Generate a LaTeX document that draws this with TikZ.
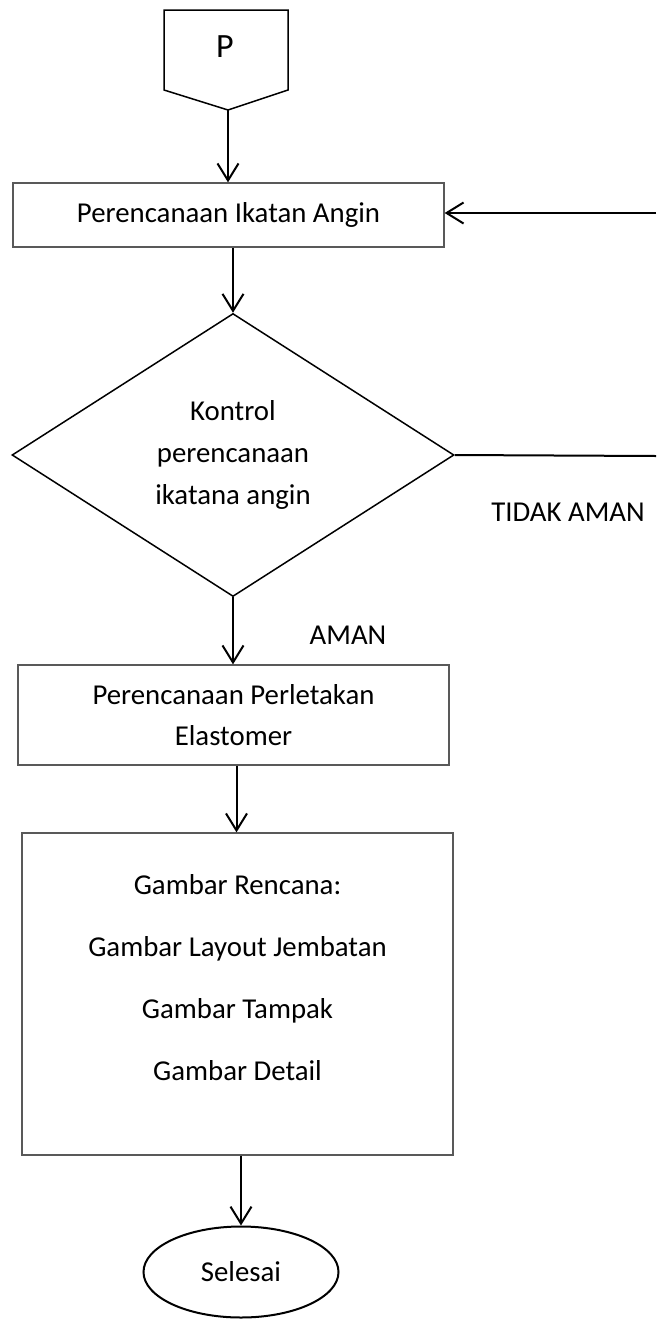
\documentclass[tikz,border=0pt]{standalone}
\usepackage{fontspec}
\setmainfont{Carlito}
\usetikzlibrary{arrows.meta,shapes.geometric}
\tikzset{
  txt/.style={font=\fontsize{28.8}{41.7}\selectfont, align=center, inner sep=0pt},
  procbox/.style={draw=black!65, line width=1.3pt, rectangle, inner sep=0pt, txt},
  outl/.style={draw=black, line width=1.5pt},
  conn/.style={draw=black, line width=2pt},
  arr/.style={conn, -{Straight Barb[length=17pt,width=21pt]}},
}
\begin{document}
\begin{tikzpicture}[x=1pt,y=-1pt]
\useasboundingbox (0,0) rectangle (656,1320);
% off-page connector P
\draw[outl] (164,10) -- (288,10) -- (288,90) -- (228,110) -- (164,90) -- cycle;
\node[txt, font=\fontsize{34}{40}\selectfont] (p) at (225,47) {P};
\coordinate (pbot) at (228,110);
% boxes
\node[procbox, minimum width=431pt, minimum height=64pt] (b1) at (228.5,215) {Perencanaan Ikatan Angin};
\node[diamond, outl, txt, minimum width=442pt, minimum height=283pt] (dia) at (233,455) {Kontrol\\perencanaan\\ikatana angin};
\node[procbox, minimum width=431pt, minimum height=100pt] (b2) at (233.5,715) {Perencanaan Perletakan\\Elastomer};
\node[procbox, minimum width=431pt, minimum height=322pt] (b3) at (237.5,994) {};
\node[txt, font=\fontsize{28.8}{62}\selectfont] (b3t) at (237.5,978) {Gambar Rencana:\\Gambar Layout Jembatan\\Gambar Tampak\\Gambar Detail};
\node[ellipse, outl, line width=2pt, txt, minimum width=195pt, minimum height=91pt] (end) at (241,1272) {Selesai};
% labels
\node[txt] (aman) at (348,635) {AMAN};
\node[txt] (tidak) at (568,512) {TIDAK AMAN};
% connectors
\draw[arr] (pbot) -- (b1.north -| pbot);
\draw[arr] (dia.north |- b1.south) -- (dia.north);
\draw[arr] (dia.south) -- (b2.north -| dia.south);
\coordinate (c23) at (236.5,0);
\draw[arr] (b2.south -| c23) -- (b3.north -| c23);
\draw[arr] (b3.south -| end.north) -- (end.north);
\coordinate (rout) at (656,456);
\coordinate (rin) at (656,213);
\draw[conn] (dia.east) -- (rout);
\draw[arr] (rin) -- (b1.east |- rin);
\end{tikzpicture}
\end{document}
